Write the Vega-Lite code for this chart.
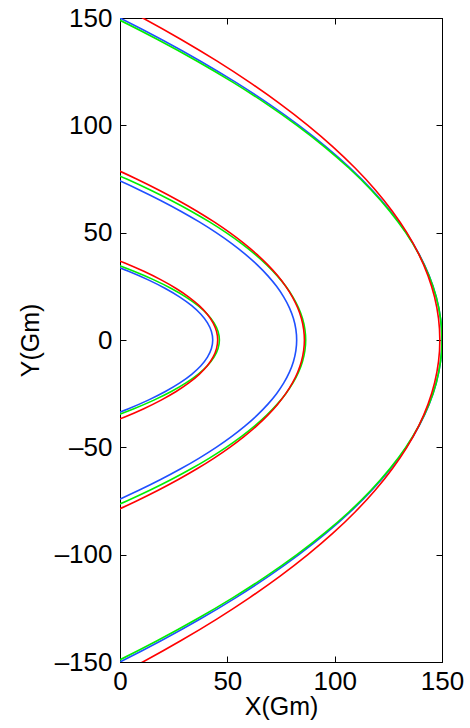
{
  "$schema": "https://vega.github.io/schema/vega-lite/v6.json",
  "width": 322,
  "height": 644,
  "autosize": "none",
  "padding": {"left": 120, "top": 18, "right": 28, "bottom": 66},
  "background": "white",
  "config": {
    "font": "Liberation Sans",
    "view": {"stroke": "black", "strokeWidth": 1},
    "axis": {
      "grid": false,
      "domainColor": "black",
      "domainWidth": 1,
      "tickColor": "black",
      "tickWidth": 1,
      "tickSize": -6,
      "labelColor": "black",
      "labelFontSize": 26,
      "labelFlush": false,
      "labelOverlap": false,
      "titleColor": "black",
      "titleFontSize": 25,
      "titleFontWeight": "normal"
    }
  },
  "data": {
    "values": [
      {"curve": "outer", "series": "blue", "y": -160, "x": -20.67},
      {"curve": "outer", "series": "blue", "y": -150, "x": 0},
      {"curve": "outer", "series": "blue", "y": -140, "x": 19.33},
      {"curve": "outer", "series": "blue", "y": -130, "x": 37.33},
      {"curve": "outer", "series": "blue", "y": -120, "x": 54},
      {"curve": "outer", "series": "blue", "y": -110, "x": 69.33},
      {"curve": "outer", "series": "blue", "y": -100, "x": 83.33},
      {"curve": "outer", "series": "blue", "y": -90, "x": 96},
      {"curve": "outer", "series": "blue", "y": -80, "x": 107.33},
      {"curve": "outer", "series": "blue", "y": -70, "x": 117.33},
      {"curve": "outer", "series": "blue", "y": -60, "x": 126},
      {"curve": "outer", "series": "blue", "y": -50, "x": 133.33},
      {"curve": "outer", "series": "blue", "y": -40, "x": 139.33},
      {"curve": "outer", "series": "blue", "y": -30, "x": 144},
      {"curve": "outer", "series": "blue", "y": -20, "x": 147.33},
      {"curve": "outer", "series": "blue", "y": -10, "x": 149.33},
      {"curve": "outer", "series": "blue", "y": 0, "x": 150},
      {"curve": "outer", "series": "blue", "y": 10, "x": 149.33},
      {"curve": "outer", "series": "blue", "y": 20, "x": 147.33},
      {"curve": "outer", "series": "blue", "y": 30, "x": 144},
      {"curve": "outer", "series": "blue", "y": 40, "x": 139.33},
      {"curve": "outer", "series": "blue", "y": 50, "x": 133.33},
      {"curve": "outer", "series": "blue", "y": 60, "x": 126},
      {"curve": "outer", "series": "blue", "y": 70, "x": 117.33},
      {"curve": "outer", "series": "blue", "y": 80, "x": 107.33},
      {"curve": "outer", "series": "blue", "y": 90, "x": 96},
      {"curve": "outer", "series": "blue", "y": 100, "x": 83.33},
      {"curve": "outer", "series": "blue", "y": 110, "x": 69.33},
      {"curve": "outer", "series": "blue", "y": 120, "x": 54},
      {"curve": "outer", "series": "blue", "y": 130, "x": 37.33},
      {"curve": "outer", "series": "blue", "y": 140, "x": 19.33},
      {"curve": "outer", "series": "blue", "y": 150, "x": 0},
      {"curve": "outer", "series": "blue", "y": 160, "x": -20.67},

      {"curve": "outer", "series": "green", "y": -160, "x": -23.06},
      {"curve": "outer", "series": "green", "y": -150, "x": -2.1},
      {"curve": "outer", "series": "green", "y": -140, "x": 17.5},
      {"curve": "outer", "series": "green", "y": -130, "x": 35.76},
      {"curve": "outer", "series": "green", "y": -120, "x": 52.66},
      {"curve": "outer", "series": "green", "y": -110, "x": 68.2},
      {"curve": "outer", "series": "green", "y": -100, "x": 82.4},
      {"curve": "outer", "series": "green", "y": -90, "x": 95.24},
      {"curve": "outer", "series": "green", "y": -80, "x": 106.74},
      {"curve": "outer", "series": "green", "y": -70, "x": 116.88},
      {"curve": "outer", "series": "green", "y": -60, "x": 125.66},
      {"curve": "outer", "series": "green", "y": -50, "x": 133.1},
      {"curve": "outer", "series": "green", "y": -40, "x": 139.18},
      {"curve": "outer", "series": "green", "y": -30, "x": 143.92},
      {"curve": "outer", "series": "green", "y": -20, "x": 147.3},
      {"curve": "outer", "series": "green", "y": -10, "x": 149.32},
      {"curve": "outer", "series": "green", "y": 0, "x": 150},
      {"curve": "outer", "series": "green", "y": 10, "x": 149.32},
      {"curve": "outer", "series": "green", "y": 20, "x": 147.3},
      {"curve": "outer", "series": "green", "y": 30, "x": 143.92},
      {"curve": "outer", "series": "green", "y": 40, "x": 139.18},
      {"curve": "outer", "series": "green", "y": 50, "x": 133.1},
      {"curve": "outer", "series": "green", "y": 60, "x": 125.66},
      {"curve": "outer", "series": "green", "y": 70, "x": 116.88},
      {"curve": "outer", "series": "green", "y": 80, "x": 106.74},
      {"curve": "outer", "series": "green", "y": 90, "x": 95.24},
      {"curve": "outer", "series": "green", "y": 100, "x": 82.4},
      {"curve": "outer", "series": "green", "y": 110, "x": 68.2},
      {"curve": "outer", "series": "green", "y": 120, "x": 52.66},
      {"curve": "outer", "series": "green", "y": 130, "x": 35.76},
      {"curve": "outer", "series": "green", "y": 140, "x": 17.5},
      {"curve": "outer", "series": "green", "y": 150, "x": -2.1},
      {"curve": "outer", "series": "green", "y": 160, "x": -23.06},

      {"curve": "outer", "series": "red", "y": -160, "x": -8.44},
      {"curve": "outer", "series": "red", "y": -150, "x": 10.63},
      {"curve": "outer", "series": "red", "y": -140, "x": 28.46},
      {"curve": "outer", "series": "red", "y": -130, "x": 45.07},
      {"curve": "outer", "series": "red", "y": -120, "x": 60.44},
      {"curve": "outer", "series": "red", "y": -110, "x": 74.59},
      {"curve": "outer", "series": "red", "y": -100, "x": 87.5},
      {"curve": "outer", "series": "red", "y": -90, "x": 99.19},
      {"curve": "outer", "series": "red", "y": -80, "x": 109.64},
      {"curve": "outer", "series": "red", "y": -70, "x": 118.87},
      {"curve": "outer", "series": "red", "y": -60, "x": 126.86},
      {"curve": "outer", "series": "red", "y": -50, "x": 133.63},
      {"curve": "outer", "series": "red", "y": -40, "x": 139.16},
      {"curve": "outer", "series": "red", "y": -30, "x": 143.47},
      {"curve": "outer", "series": "red", "y": -20, "x": 146.54},
      {"curve": "outer", "series": "red", "y": -10, "x": 148.39},
      {"curve": "outer", "series": "red", "y": 0, "x": 149},
      {"curve": "outer", "series": "red", "y": 10, "x": 148.39},
      {"curve": "outer", "series": "red", "y": 20, "x": 146.54},
      {"curve": "outer", "series": "red", "y": 30, "x": 143.47},
      {"curve": "outer", "series": "red", "y": 40, "x": 139.16},
      {"curve": "outer", "series": "red", "y": 50, "x": 133.63},
      {"curve": "outer", "series": "red", "y": 60, "x": 126.86},
      {"curve": "outer", "series": "red", "y": 70, "x": 118.87},
      {"curve": "outer", "series": "red", "y": 80, "x": 109.64},
      {"curve": "outer", "series": "red", "y": 90, "x": 99.19},
      {"curve": "outer", "series": "red", "y": 100, "x": 87.5},
      {"curve": "outer", "series": "red", "y": 110, "x": 74.59},
      {"curve": "outer", "series": "red", "y": 120, "x": 60.44},
      {"curve": "outer", "series": "red", "y": 130, "x": 45.07},
      {"curve": "outer", "series": "red", "y": 140, "x": 28.46},
      {"curve": "outer", "series": "red", "y": 150, "x": 10.63},
      {"curve": "outer", "series": "red", "y": 160, "x": -8.44},

      {"curve": "middle", "series": "blue", "y": -80, "x": -13.7},
      {"curve": "middle", "series": "blue", "y": -75, "x": -2.08},
      {"curve": "middle", "series": "blue", "y": -70, "x": 8.8},
      {"curve": "middle", "series": "blue", "y": -65, "x": 18.93},
      {"curve": "middle", "series": "blue", "y": -60, "x": 28.3},
      {"curve": "middle", "series": "blue", "y": -55, "x": 36.93},
      {"curve": "middle", "series": "blue", "y": -50, "x": 44.8},
      {"curve": "middle", "series": "blue", "y": -45, "x": 51.93},
      {"curve": "middle", "series": "blue", "y": -40, "x": 58.3},
      {"curve": "middle", "series": "blue", "y": -35, "x": 63.93},
      {"curve": "middle", "series": "blue", "y": -30, "x": 68.8},
      {"curve": "middle", "series": "blue", "y": -25, "x": 72.93},
      {"curve": "middle", "series": "blue", "y": -20, "x": 76.3},
      {"curve": "middle", "series": "blue", "y": -15, "x": 78.93},
      {"curve": "middle", "series": "blue", "y": -10, "x": 80.8},
      {"curve": "middle", "series": "blue", "y": -5, "x": 81.93},
      {"curve": "middle", "series": "blue", "y": 0, "x": 82.3},
      {"curve": "middle", "series": "blue", "y": 5, "x": 81.93},
      {"curve": "middle", "series": "blue", "y": 10, "x": 80.8},
      {"curve": "middle", "series": "blue", "y": 15, "x": 78.93},
      {"curve": "middle", "series": "blue", "y": 20, "x": 76.3},
      {"curve": "middle", "series": "blue", "y": 25, "x": 72.93},
      {"curve": "middle", "series": "blue", "y": 30, "x": 68.8},
      {"curve": "middle", "series": "blue", "y": 35, "x": 63.93},
      {"curve": "middle", "series": "blue", "y": 40, "x": 58.3},
      {"curve": "middle", "series": "blue", "y": 45, "x": 51.93},
      {"curve": "middle", "series": "blue", "y": 50, "x": 44.8},
      {"curve": "middle", "series": "blue", "y": 55, "x": 36.93},
      {"curve": "middle", "series": "blue", "y": 60, "x": 28.3},
      {"curve": "middle", "series": "blue", "y": 65, "x": 18.93},
      {"curve": "middle", "series": "blue", "y": 70, "x": 8.8},
      {"curve": "middle", "series": "blue", "y": 75, "x": -2.08},
      {"curve": "middle", "series": "blue", "y": 80, "x": -13.7},

      {"curve": "middle", "series": "green", "y": -80, "x": -8.35},
      {"curve": "middle", "series": "green", "y": -75, "x": 3.14},
      {"curve": "middle", "series": "green", "y": -70, "x": 13.88},
      {"curve": "middle", "series": "green", "y": -65, "x": 23.89},
      {"curve": "middle", "series": "green", "y": -60, "x": 33.15},
      {"curve": "middle", "series": "green", "y": -55, "x": 41.67},
      {"curve": "middle", "series": "green", "y": -50, "x": 49.45},
      {"curve": "middle", "series": "green", "y": -45, "x": 56.49},
      {"curve": "middle", "series": "green", "y": -40, "x": 62.79},
      {"curve": "middle", "series": "green", "y": -35, "x": 68.35},
      {"curve": "middle", "series": "green", "y": -30, "x": 73.16},
      {"curve": "middle", "series": "green", "y": -25, "x": 77.24},
      {"curve": "middle", "series": "green", "y": -20, "x": 80.57},
      {"curve": "middle", "series": "green", "y": -15, "x": 83.17},
      {"curve": "middle", "series": "green", "y": -10, "x": 85.02},
      {"curve": "middle", "series": "green", "y": -5, "x": 86.13},
      {"curve": "middle", "series": "green", "y": 0, "x": 86.5},
      {"curve": "middle", "series": "green", "y": 5, "x": 86.13},
      {"curve": "middle", "series": "green", "y": 10, "x": 85.02},
      {"curve": "middle", "series": "green", "y": 15, "x": 83.17},
      {"curve": "middle", "series": "green", "y": 20, "x": 80.57},
      {"curve": "middle", "series": "green", "y": 25, "x": 77.24},
      {"curve": "middle", "series": "green", "y": 30, "x": 73.16},
      {"curve": "middle", "series": "green", "y": 35, "x": 68.35},
      {"curve": "middle", "series": "green", "y": 40, "x": 62.79},
      {"curve": "middle", "series": "green", "y": 45, "x": 56.49},
      {"curve": "middle", "series": "green", "y": 50, "x": 49.45},
      {"curve": "middle", "series": "green", "y": 55, "x": 41.67},
      {"curve": "middle", "series": "green", "y": 60, "x": 33.15},
      {"curve": "middle", "series": "green", "y": 65, "x": 23.89},
      {"curve": "middle", "series": "green", "y": 70, "x": 13.88},
      {"curve": "middle", "series": "green", "y": 75, "x": 3.14},
      {"curve": "middle", "series": "green", "y": 80, "x": -8.35},

      {"curve": "middle", "series": "red", "y": -85, "x": -14.53},
      {"curve": "middle", "series": "red", "y": -80, "x": -3.06},
      {"curve": "middle", "series": "red", "y": -75, "x": 7.71},
      {"curve": "middle", "series": "red", "y": -70, "x": 17.79},
      {"curve": "middle", "series": "red", "y": -65, "x": 27.17},
      {"curve": "middle", "series": "red", "y": -60, "x": 35.86},
      {"curve": "middle", "series": "red", "y": -55, "x": 43.85},
      {"curve": "middle", "series": "red", "y": -50, "x": 51.15},
      {"curve": "middle", "series": "red", "y": -45, "x": 57.75},
      {"curve": "middle", "series": "red", "y": -40, "x": 63.66},
      {"curve": "middle", "series": "red", "y": -35, "x": 68.87},
      {"curve": "middle", "series": "red", "y": -30, "x": 73.39},
      {"curve": "middle", "series": "red", "y": -25, "x": 77.21},
      {"curve": "middle", "series": "red", "y": -20, "x": 80.34},
      {"curve": "middle", "series": "red", "y": -15, "x": 82.77},
      {"curve": "middle", "series": "red", "y": -10, "x": 84.51},
      {"curve": "middle", "series": "red", "y": -5, "x": 85.55},
      {"curve": "middle", "series": "red", "y": 0, "x": 85.9},
      {"curve": "middle", "series": "red", "y": 5, "x": 85.55},
      {"curve": "middle", "series": "red", "y": 10, "x": 84.51},
      {"curve": "middle", "series": "red", "y": 15, "x": 82.77},
      {"curve": "middle", "series": "red", "y": 20, "x": 80.34},
      {"curve": "middle", "series": "red", "y": 25, "x": 77.21},
      {"curve": "middle", "series": "red", "y": 30, "x": 73.39},
      {"curve": "middle", "series": "red", "y": 35, "x": 68.87},
      {"curve": "middle", "series": "red", "y": 40, "x": 63.66},
      {"curve": "middle", "series": "red", "y": 45, "x": 57.75},
      {"curve": "middle", "series": "red", "y": 50, "x": 51.15},
      {"curve": "middle", "series": "red", "y": 55, "x": 43.85},
      {"curve": "middle", "series": "red", "y": 60, "x": 35.86},
      {"curve": "middle", "series": "red", "y": 65, "x": 27.17},
      {"curve": "middle", "series": "red", "y": 70, "x": 17.79},
      {"curve": "middle", "series": "red", "y": 75, "x": 7.71},
      {"curve": "middle", "series": "red", "y": 80, "x": -3.06},
      {"curve": "middle", "series": "red", "y": 85, "x": -14.53},

      {"curve": "inner", "series": "blue", "y": -40, "x": -18.08},
      {"curve": "inner", "series": "blue", "y": -36, "x": -6.44},
      {"curve": "inner", "series": "blue", "y": -32, "x": 3.98},
      {"curve": "inner", "series": "blue", "y": -28, "x": 13.17},
      {"curve": "inner", "series": "blue", "y": -24, "x": 21.14},
      {"curve": "inner", "series": "blue", "y": -20, "x": 27.88},
      {"curve": "inner", "series": "blue", "y": -16, "x": 33.4},
      {"curve": "inner", "series": "blue", "y": -12, "x": 37.68},
      {"curve": "inner", "series": "blue", "y": -8, "x": 40.75},
      {"curve": "inner", "series": "blue", "y": -4, "x": 42.59},
      {"curve": "inner", "series": "blue", "y": 0, "x": 43.2},
      {"curve": "inner", "series": "blue", "y": 4, "x": 42.59},
      {"curve": "inner", "series": "blue", "y": 8, "x": 40.75},
      {"curve": "inner", "series": "blue", "y": 12, "x": 37.68},
      {"curve": "inner", "series": "blue", "y": 16, "x": 33.4},
      {"curve": "inner", "series": "blue", "y": 20, "x": 27.88},
      {"curve": "inner", "series": "blue", "y": 24, "x": 21.14},
      {"curve": "inner", "series": "blue", "y": 28, "x": 13.17},
      {"curve": "inner", "series": "blue", "y": 32, "x": 3.98},
      {"curve": "inner", "series": "blue", "y": 36, "x": -6.44},
      {"curve": "inner", "series": "blue", "y": 40, "x": -18.08},

      {"curve": "inner", "series": "green", "y": -40, "x": -15.94},
      {"curve": "inner", "series": "green", "y": -36, "x": -4.11},
      {"curve": "inner", "series": "green", "y": -32, "x": 6.47},
      {"curve": "inner", "series": "green", "y": -28, "x": 15.8},
      {"curve": "inner", "series": "green", "y": -24, "x": 23.89},
      {"curve": "inner", "series": "green", "y": -20, "x": 30.74},
      {"curve": "inner", "series": "green", "y": -16, "x": 36.34},
      {"curve": "inner", "series": "green", "y": -12, "x": 40.7},
      {"curve": "inner", "series": "green", "y": -8, "x": 43.81},
      {"curve": "inner", "series": "green", "y": -4, "x": 45.68},
      {"curve": "inner", "series": "green", "y": 0, "x": 46.3},
      {"curve": "inner", "series": "green", "y": 4, "x": 45.68},
      {"curve": "inner", "series": "green", "y": 8, "x": 43.81},
      {"curve": "inner", "series": "green", "y": 12, "x": 40.7},
      {"curve": "inner", "series": "green", "y": 16, "x": 36.34},
      {"curve": "inner", "series": "green", "y": 20, "x": 30.74},
      {"curve": "inner", "series": "green", "y": 24, "x": 23.89},
      {"curve": "inner", "series": "green", "y": 28, "x": 15.8},
      {"curve": "inner", "series": "green", "y": 32, "x": 6.47},
      {"curve": "inner", "series": "green", "y": 36, "x": -4.11},
      {"curve": "inner", "series": "green", "y": 40, "x": -15.94},

      {"curve": "inner", "series": "red", "y": -40, "x": -8.26},
      {"curve": "inner", "series": "red", "y": -36, "x": 1.95},
      {"curve": "inner", "series": "red", "y": -32, "x": 11.09},
      {"curve": "inner", "series": "red", "y": -28, "x": 19.16},
      {"curve": "inner", "series": "red", "y": -24, "x": 26.15},
      {"curve": "inner", "series": "red", "y": -20, "x": 32.06},
      {"curve": "inner", "series": "red", "y": -16, "x": 36.9},
      {"curve": "inner", "series": "red", "y": -12, "x": 40.66},
      {"curve": "inner", "series": "red", "y": -8, "x": 43.35},
      {"curve": "inner", "series": "red", "y": -4, "x": 44.96},
      {"curve": "inner", "series": "red", "y": 0, "x": 45.5},
      {"curve": "inner", "series": "red", "y": 4, "x": 44.96},
      {"curve": "inner", "series": "red", "y": 8, "x": 43.35},
      {"curve": "inner", "series": "red", "y": 12, "x": 40.66},
      {"curve": "inner", "series": "red", "y": 16, "x": 36.9},
      {"curve": "inner", "series": "red", "y": 20, "x": 32.06},
      {"curve": "inner", "series": "red", "y": 24, "x": 26.15},
      {"curve": "inner", "series": "red", "y": 28, "x": 19.16},
      {"curve": "inner", "series": "red", "y": 32, "x": 11.09},
      {"curve": "inner", "series": "red", "y": 36, "x": 1.95},
      {"curve": "inner", "series": "red", "y": 40, "x": -8.26}
    ]
  },
  "layer": [
    {
      "mark": {"type": "line", "strokeWidth": 1.6, "clip": true, "interpolate": "catmull-rom"},
      "encoding": {
        "x": {
          "field": "x", "type": "quantitative",
          "scale": {"domain": [0, 150], "nice": false, "zero": false},
          "axis": {"orient": "bottom", "values": [0, 50, 100, 150], "format": "d", "title": "X(Gm)", "labelPadding": 12, "titlePadding": 0}
        },
        "y": {
          "field": "y", "type": "quantitative",
          "scale": {"domain": [-150, 150], "nice": false, "zero": false},
          "axis": {"orient": "left", "values": [-150, -100, -50, 0, 50, 100, 150], "format": "d", "labelExpr": "datum.value < 0 ? '\u2013' + abs(datum.value) : datum.label", "title": "Y(Gm)", "labelPadding": 14, "titleX": -82, "titleY": 322, "titleBaseline": "alphabetic", "titleAlign": "center", "titleAngle": -90}
        },
        "color": {
          "field": "series", "type": "nominal",
          "scale": {"domain": ["blue", "green", "red"], "range": ["#1f50ff", "#00ee00", "#ff0000"]},
          "legend": null
        },
        "detail": {"field": "curve", "type": "nominal"},
        "order": {"field": "y", "type": "quantitative"}
      }
    },
    {
      "mark": {"type": "point", "opacity": 0},
      "encoding": {
        "x": {
          "field": "x", "type": "quantitative",
          "scale": {"domain": [0, 150], "nice": false, "zero": false},
          "axis": {"orient": "top", "values": [0, 50, 100, 150], "labels": false, "title": null}
        },
        "y": {
          "field": "y", "type": "quantitative",
          "scale": {"domain": [-150, 150], "nice": false, "zero": false},
          "axis": {"orient": "right", "values": [-150, -100, -50, 0, 50, 100, 150], "labels": false, "title": null}
        }
      }
    }
  ],
  "resolve": {"axis": {"x": "independent", "y": "independent"}}
}
